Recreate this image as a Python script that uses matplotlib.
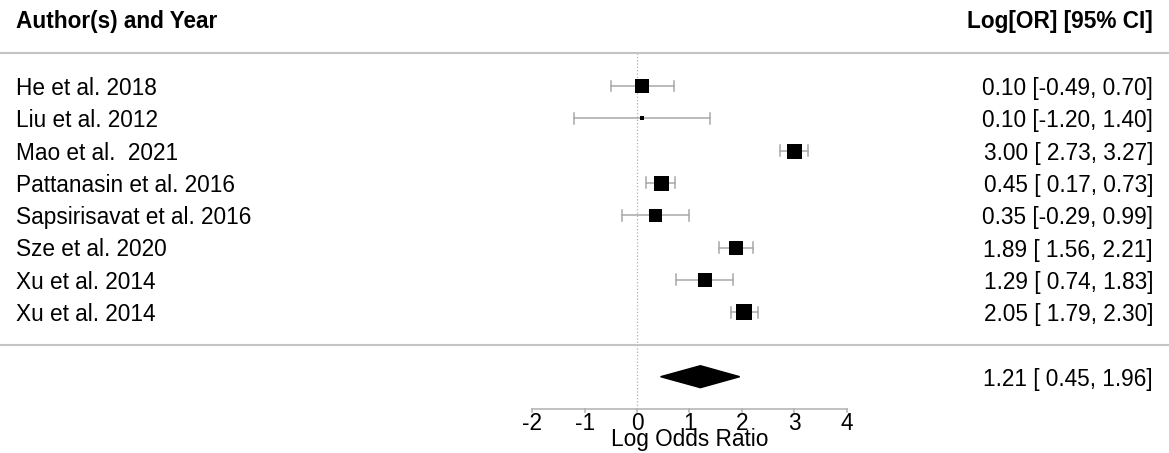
import matplotlib
matplotlib.use("Agg")
import matplotlib.pyplot as plt
from matplotlib.patches import Polygon

plt.rcParams['font.family'] = ['Liberation Sans', 'DejaVu Sans']

studies = ["He et al. 2018", "Liu et al. 2012", "Mao et al.  2021",
           "Pattanasin et al. 2016", "Sapsirisavat et al. 2016",
           "Sze et al. 2020", "Xu et al. 2014", "Xu et al. 2014"]
est = [0.10, 0.10, 3.00, 0.45, 0.35, 1.89, 1.29, 2.05]
ci_lo = [-0.49, -1.20, 2.73, 0.17, -0.29, 1.56, 0.74, 1.79]
ci_hi = [0.70, 1.40, 3.27, 0.73, 0.99, 2.21, 1.83, 2.30]
weights = [13.3, 4.7, 15.0, 15.0, 13.0, 14.7, 13.7, 15.3]  # relative square size
summary_est, summary_lo, summary_hi = 1.21, 0.45, 1.96
ticks = [-2, -1, 0, 1, 2, 3, 4]

W, H = 1169, 453
PX_PER_UNIT = 52.4
X0_PX = 637
ROW_PX = 32.3
ROW0_PX = 86

fig = plt.figure(figsize=(W / 100, H / 100), dpi=100)
ax = fig.add_axes([0, 0, 1, 1])
ax.set_xlim(-X0_PX / PX_PER_UNIT, (W - X0_PX) / PX_PER_UNIT)
ax.set_ylim((H - ROW0_PX) / ROW_PX, -ROW0_PX / ROW_PX)
ax.axis('off')

def rowpx(p):
    return (p - ROW0_PX) / ROW_PX

fs = 16.3
tr = ax.get_yaxis_transform()  # x axes fraction, y data
gray_line = '#c4c4c4'
ci_col = '#a8a8a8'
LEFT = 16 / W
RIGHT = 1153 / W

# header
ax.text(LEFT, rowpx(28), "Author(s) and Year", transform=tr, fontsize=fs,
        fontweight='bold', ha='left', va='baseline')
ax.text(RIGHT, rowpx(28), "Log[OR] [95% CI]", transform=tr, fontsize=fs,
        fontweight='bold', ha='right', va='baseline')

# separators
ax.plot([0, 1], [rowpx(53), rowpx(53)], transform=tr, color=gray_line, lw=1.5)
ax.plot([0, 1], [rowpx(345), rowpx(345)], transform=tr, color=gray_line, lw=1.5)

n = len(studies)
# reference line
ax.plot([0, 0], [rowpx(53), n + 2], color='#b0b0b0', lw=0.9, ls=':', zorder=1)

cap = 0.17
for i in range(n):
    ax.plot([ci_lo[i], ci_hi[i]], [i, i], color=ci_col, lw=1.1, zorder=2)
    ax.plot([ci_lo[i]] * 2, [i - cap, i + cap], color=ci_col, lw=1.1, zorder=2)
    ax.plot([ci_hi[i]] * 2, [i - cap, i + cap], color=ci_col, lw=1.1, zorder=2)
    ax.plot(est[i], i, marker='s', color='black', markersize=weights[i] * 0.72,
            markeredgewidth=0, zorder=3)
    ax.text(LEFT, i, studies[i], transform=tr, fontsize=fs, ha='left',
            va='center_baseline')
    lo_s = f"{ci_lo[i]:.2f}" if ci_lo[i] < 0 else f" {ci_lo[i]:.2f}"
    ax.text(RIGHT, i, f"{est[i]:.2f} [{lo_s}, {ci_hi[i]:.2f}]",
            transform=tr, fontsize=fs, ha='right', va='center_baseline')

# summary diamond
ys = n + 1
h = 0.34
ax.add_patch(Polygon([(summary_lo, ys), (summary_est, ys - h), (summary_hi, ys),
                      (summary_est, ys + h)], closed=True, color='black', zorder=3))
ax.text(RIGHT, ys, f"{summary_est:.2f} [ {summary_lo:.2f}, {summary_hi:.2f}]",
        transform=tr, fontsize=fs, ha='right', va='center_baseline')

# x axis
ya = n + 2
ax.plot([ticks[0], ticks[-1]], [ya, ya], color='#b0b0b0', lw=1.1)
for t in ticks:
    ax.plot([t, t], [ya, ya + 0.1], color='#b0b0b0', lw=1.1)
    ax.text(t, rowpx(429.5), f"{t}", fontsize=fs, ha='center', va='baseline')
ax.text((ticks[0] + ticks[-1]) / 2, rowpx(446), "Log Odds Ratio", fontsize=fs,
        ha='center', va='baseline')

fig.savefig("out.png", dpi=100)
